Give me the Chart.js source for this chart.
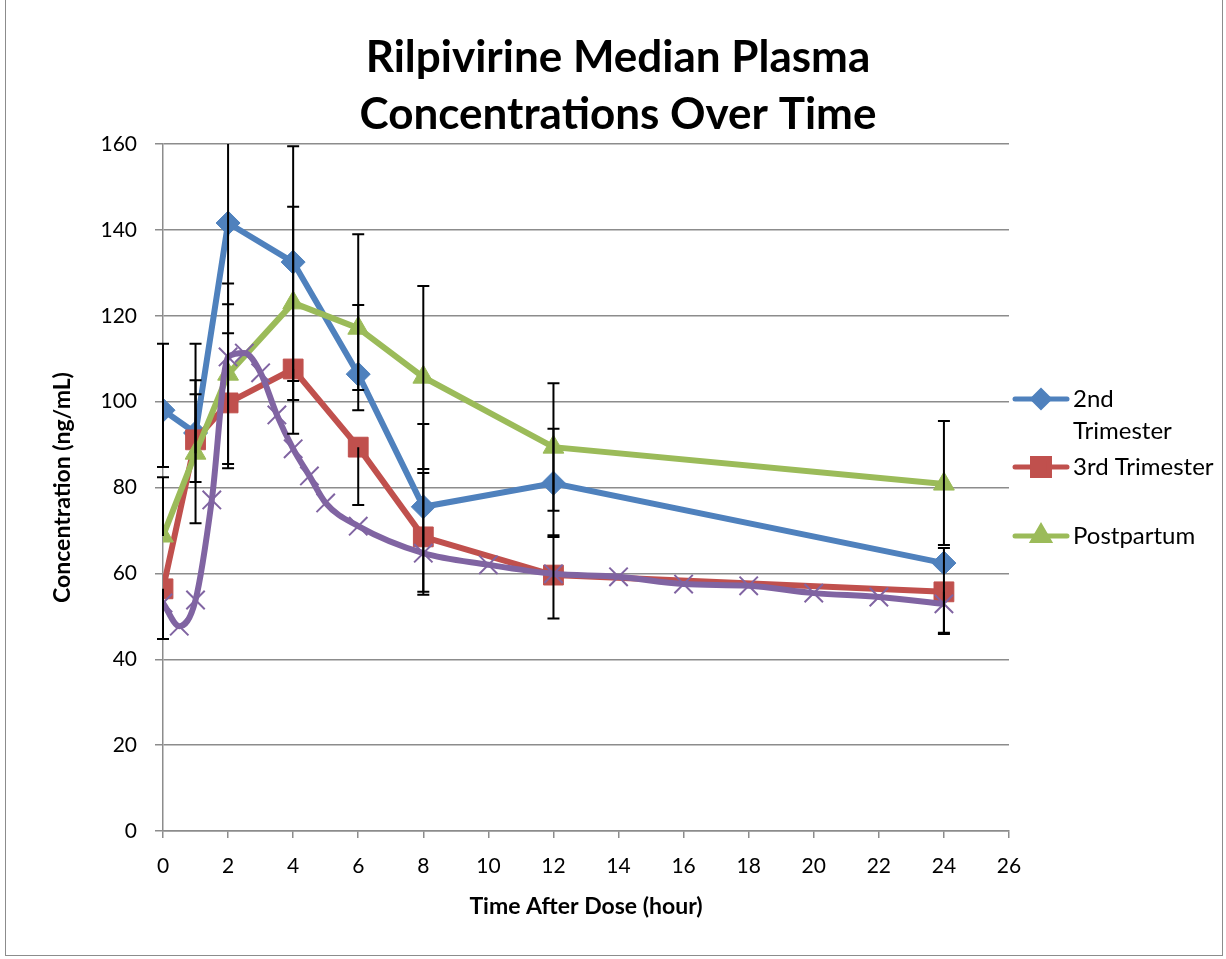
<!DOCTYPE html>
<html>
<head>
<meta charset="utf-8">
<script src="https://cdn.jsdelivr.net/npm/chart.js@4/dist/chart.umd.min.js"></script>
<style>
  body { margin: 0; background: #fff; }
  #wrap { position: relative; width: 1226px; height: 959px; }
  #frame { position: absolute; left: 5px; top: -2px; width: 1216px; height: 956px; border: 1px solid #8c8c8c; pointer-events: none; }
  canvas { position: absolute; left: 0; top: 0; }
</style>
</head>
<body>
<div id="wrap">
  <canvas id="pkChart" width="1226" height="959"></canvas>
  <div id="frame"></div>
</div>
<script>
// Sampling times (hours)
const times = [0, 1, 2, 4, 6, 8, 12, 24];

// Median concentrations (ng/mL)
const secondTrimester = [98.0, 92.7, 141.6, 132.5, 106.4, 75.5, 81.0, 62.4];
const thirdTrimester = [56.4, 91.1, 99.7, 107.6, 89.4, 68.5, 59.6, 55.7];
const postpartum = [68.7, 88.0, 106.4, 123.0, 117.1, 105.7, 89.4, 80.8];

// Error bar ends (null = no bar on that side)
const secondUpper = [113.5, 113.5, 170, 159.5, 122.5, 94.8, 93.7, 65.9];
const secondLower = [84.8, 71.7, 115.9, 100.4, 98.0, 55.0, 68.9, 45.9];
const thirdUpper = [null, 105.0, 122.7, null, null, 83.4, 68.5, null];
const thirdLower = [44.7, 81.3, 84.5, 92.5, 75.9, 55.7, 49.5, 46.2];
const postUpper = [82.4, 101.7, 127.5, 145.4, 139.0, 126.9, 104.3, 95.5];
const postLower = [null, null, 85.5, 104.8, 102.7, 84.3, 74.6, 66.6];

// Extra unlabeled profile (purple, x markers)
const profileTimes = [0, 0.5, 1, 1.5, 2, 2.5, 3, 3.5, 4, 4.5, 5, 6, 8, 10, 12, 14, 16, 18, 20, 22, 24];
const profileValues = [53.1, 47.7, 53.8, 77.1, 110.4, 111.3, 106.7, 96.9, 89.0, 82.7, 76.4, 71.0, 64.7, 62.0, 59.9, 59.2, 57.5, 57.1, 55.4, 54.5, 52.9];

const titleLines = ['Rilpivirine Median Plasma', 'Concentrations Over Time'];
const legendNames = ['2nd\nTrimester', '3rd Trimester', 'Postpartum'];

const BLUE = '#4F81BD', RED = '#C0504D', GREEN = '#9BBB59', PURPLE = '#8064A2';
const FONT = 'Lato, "Open Sans", sans-serif';

function toPoints(xs, ys) {
    return xs.map((x, i) => ({ x: x, y: ys[i] }));
}

const errorSets = [
    { upper: secondUpper, lower: secondLower, values: secondTrimester },
    { upper: thirdUpper, lower: thirdLower, values: thirdTrimester },
    { upper: postUpper, lower: postLower, values: postpartum }
];

const errorBarPlugin = {
    id: 'errorBars',
    afterDatasetsDraw(chart) {
        const ctx = chart.ctx;
        const xs = chart.scales.x, ys = chart.scales.y;
        const area = chart.chartArea;
        ctx.save();
        ctx.beginPath();
        ctx.rect(area.left - 10, area.top, area.right - area.left + 20, area.bottom - area.top);
        ctx.clip();
        ctx.strokeStyle = '#000';
        ctx.lineWidth = 2;
        errorSets.forEach(set => {
            times.forEach((t, i) => {
                const px = xs.getPixelForValue(t);
                const hi = set.upper[i] !== null ? set.upper[i] : set.values[i];
                const lo = set.lower[i] !== null ? set.lower[i] : set.values[i];
                ctx.beginPath();
                ctx.moveTo(px, ys.getPixelForValue(hi));
                ctx.lineTo(px, ys.getPixelForValue(lo));
                [set.upper[i], set.lower[i]].forEach(v => {
                    if (v === null) return;
                    const py = ys.getPixelForValue(v);
                    ctx.moveTo(px - 6, py);
                    ctx.lineTo(px + 6, py);
                });
                ctx.stroke();
            });
        });
        ctx.restore();
    }
};

// Title and side legend drawn on the canvas at the spots used in the original
const decorPlugin = {
    id: 'decor',
    afterDraw(chart) {
        const ctx = chart.ctx;
        ctx.save();
        ctx.fillStyle = '#000';
        ctx.textAlign = 'center';
        ctx.textBaseline = 'middle';
        ctx.font = 'bold 44px ' + FONT;
        titleLines.forEach((line, i) => ctx.fillText(line, 618, 58 + i * 57));

        const rows = [399, 467, 536];
        const styles = [
            { color: BLUE, pointStyle: 'rectRot', radius: 8 },
            { color: RED, pointStyle: 'rect', radius: 12 },
            { color: GREEN, pointStyle: 'triangle', radius: 9 }
        ];
        ctx.textAlign = 'left';
        ctx.font = '24px ' + FONT;
        rows.forEach((y, i) => {
            const s = styles[i];
            ctx.strokeStyle = s.color;
            ctx.fillStyle = s.color;
            ctx.lineWidth = 5;
            ctx.lineCap = 'round';
            ctx.beginPath();
            ctx.moveTo(1015, y);
            ctx.lineTo(1067, y);
            ctx.stroke();
            Chart.helpers.drawPoint(ctx, { pointStyle: s.pointStyle, radius: s.radius, borderWidth: 1, rotation: 0 }, 1041, y);
            ctx.fillStyle = '#000';
            legendNames[i].split('\n').forEach((line, j) => {
                ctx.fillText(line, 1073, y + j * 32);
            });
        });
        ctx.restore();
    }
};

new Chart(document.getElementById('pkChart'), {
    type: 'line',
    data: {
        datasets: [
            {
                label: '2nd Trimester',
                data: toPoints(times, secondTrimester),
                borderColor: BLUE, backgroundColor: BLUE,
                borderWidth: 6, pointStyle: 'rectRot', pointRadius: 12,
                pointBorderWidth: 1, tension: 0, order: 4
            },
            {
                label: '3rd Trimester',
                data: toPoints(times, thirdTrimester),
                borderColor: RED, backgroundColor: RED,
                borderWidth: 6, pointStyle: 'rect', pointRadius: 14,
                pointBorderWidth: 1, tension: 0, order: 3
            },
            {
                label: 'Postpartum',
                data: toPoints(times, postpartum),
                borderColor: GREEN, backgroundColor: GREEN,
                borderWidth: 6, pointStyle: 'triangle', pointRadius: 12,
                pointBorderWidth: 1, tension: 0, order: 2
            },
            {
                label: 'Profile',
                data: toPoints(profileTimes, profileValues),
                borderColor: PURPLE, backgroundColor: PURPLE,
                borderWidth: 6, pointStyle: 'crossRot', pointRadius: 13,
                pointBorderWidth: 2, cubicInterpolationMode: 'monotone', order: 1
            }
        ]
    },
    options: {
        responsive: false,
        animation: false,
        layout: { padding: { left: 45, right: 217, top: 144, bottom: 35 } },
        plugins: {
            legend: { display: false },
            tooltip: { enabled: false },
            title: { display: false }
        },
        scales: {
            x: {
                type: 'linear',
                min: 0, max: 26,
                ticks: { stepSize: 2, color: '#000', font: { family: FONT, size: 21 }, padding: 16, maxRotation: 0 },
                grid: { drawOnChartArea: false, color: '#8c8c8c', lineWidth: 1.5, tickLength: 7 },
                border: { color: '#8c8c8c', width: 1.5 },
                title: { display: true, text: 'Time After Dose (hour)', color: '#000', font: { family: FONT, size: 23, weight: 'bold' }, padding: { top: 4 } },
                afterFit(scale) { scale.height = 93; }
            },
            y: {
                min: 0, max: 160,
                ticks: { stepSize: 20, color: '#000', font: { family: FONT, size: 21 }, padding: 18 },
                grid: { color: '#8c8c8c', lineWidth: 1.5, tickLength: 8 },
                border: { color: '#8c8c8c', width: 1.5 },
                title: { display: true, text: 'Concentration (ng/mL)', color: '#000', font: { family: FONT, size: 23, weight: 'bold' }, padding: { bottom: 10 } },
                afterFit(scale) { scale.width = 118; }
            }
        }
    },
    plugins: [errorBarPlugin, decorPlugin]
});
</script>
</body>
</html>
